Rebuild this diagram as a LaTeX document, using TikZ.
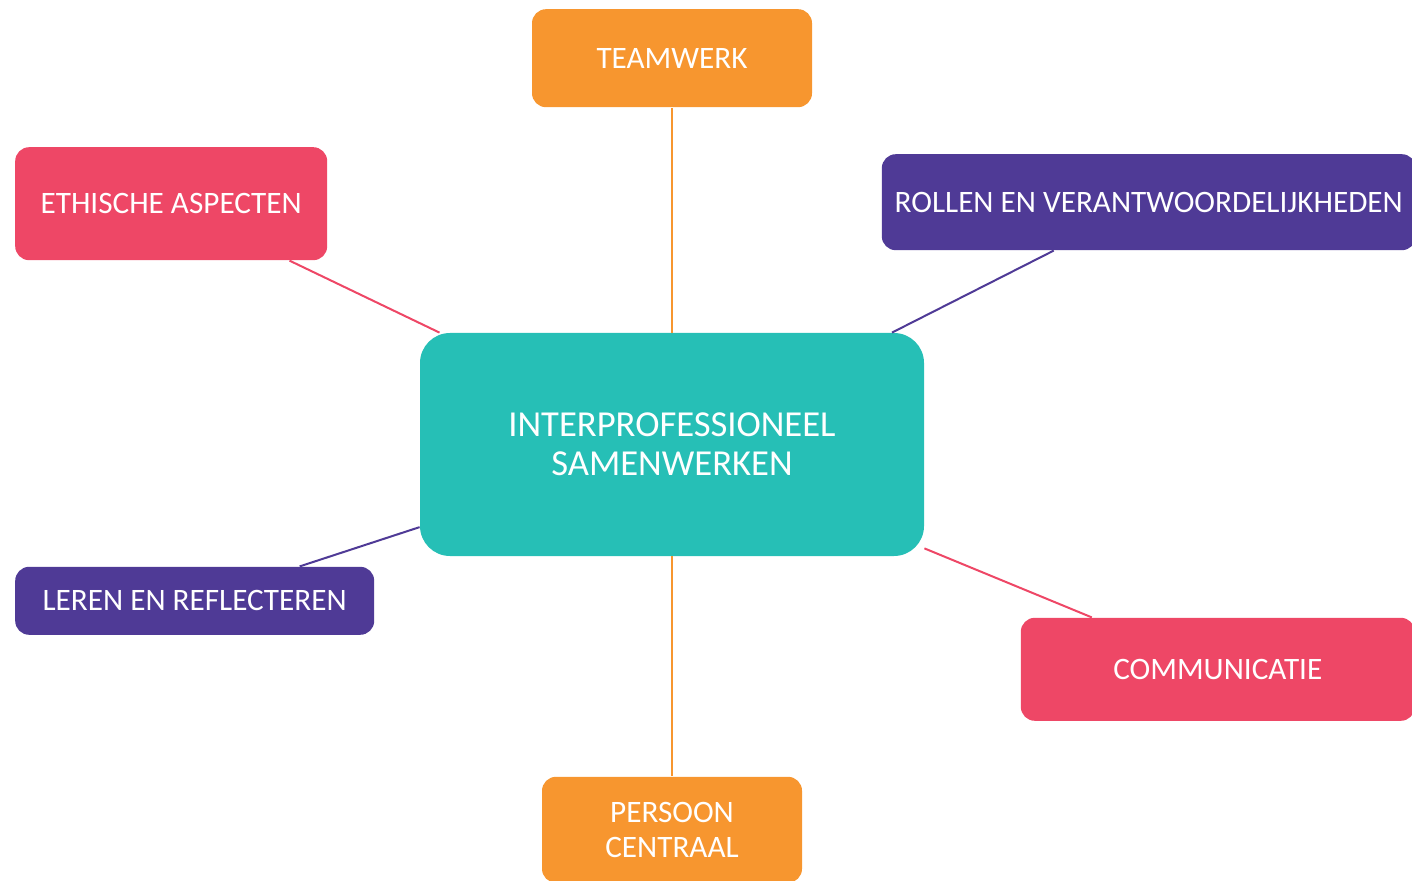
\documentclass[tikz,border=0pt]{standalone}
\usepackage{fontspec}
\setmainfont{Carlito}
\usetikzlibrary{positioning}

\definecolor{ipsorange}{HTML}{F7962F}
\definecolor{ipspink}{HTML}{EE4766}
\definecolor{ipspurple}{HTML}{4F3A96}
\definecolor{ipsteal}{HTML}{26BFB6}

\begin{document}
\begin{tikzpicture}[
    x=0.5pt, y=-0.5pt,
    topic/.style={rectangle, rounded corners=7pt, inner sep=0pt, align=center, text=white,
        font=\fontsize{15.6}{17.5}\selectfont},
    orangebox/.style={topic, fill=ipsorange},
    pinkbox/.style={topic, fill=ipspink},
    purplebox/.style={topic, fill=ipspurple},
    core/.style={rectangle, rounded corners=15pt, inner sep=0pt, align=center, text=white,
        fill=ipsteal, minimum width=252pt, minimum height=111.5pt,
        font=\fontsize{18.3}{19.5}\selectfont},
    link/.style={line width=1pt}
]
    \useasboundingbox (0,0) rectangle (1412,881);
    \clip (0,0) rectangle (1412,881);

    \node[core] (mid) at (672,444.5) {INTERPROFESSIONEEL\\SAMENWERKEN};

    \node[orangebox, minimum width=140pt, minimum height=49pt, above=112.5pt of mid] (team) {TEAMWERK};
    \node[orangebox, minimum width=130pt, minimum height=53pt, below=110pt of mid] (pers) {PERSOON\\CENTRAAL};

    \node[pinkbox, minimum width=156pt, minimum height=56.5pt, above left=36pt and 46pt of mid] (eth) {ETHISCHE ASPECTEN};
    \node[purplebox, minimum width=267pt, minimum height=48pt, above right=41pt and -21.5pt of mid] (rol) {ROLLEN EN VERANTWOORDELIJKHEDEN};
    \node[purplebox, minimum width=179.5pt, minimum height=34pt, below left=5pt and 22.5pt of mid] (leren) {LEREN EN REFLECTEREN};
    \node[pinkbox, minimum width=197pt, minimum height=51.5pt, below right=30.5pt and 48pt of mid] (comm) {COMMUNICATIE};

    % spokes
    \draw[link, ipsorange] (mid) -- (team);
    \draw[link, ipsorange] (mid) -- (pers);
    \draw[link, ipspink] (mid) -- (eth);
    \draw[link, ipspink] (mid) -- (comm);
    \draw[link, ipspurple] (mid) -- (rol);
    \draw[link, ipspurple] (mid) -- (leren);
\end{tikzpicture}
\end{document}
